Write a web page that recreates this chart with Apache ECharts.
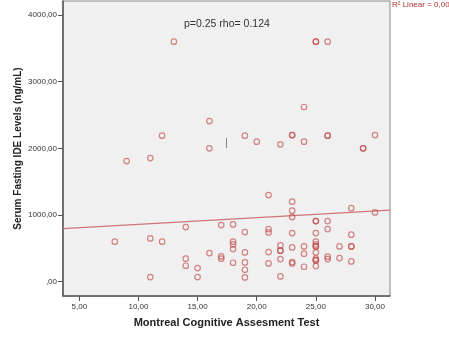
<!DOCTYPE html>
<html>
<head>
<meta charset="utf-8">
<script src="https://cdn.jsdelivr.net/npm/echarts@6/dist/echarts.min.js"></script>
<style>html,body{margin:0;padding:0;background:#fff}#c{width:449px;height:338px}</style>
</head>
<body>
<div id="c"></div>
<script>
// MoCA scores (x) and serum fasting IDE levels (y)
var mocaScores = [13,25,25,26,24,16,12,16,9,11,19,20,22,23,23,24,26,26,30,29,29,21,
  23,23,23,28,30,25,25,26,26,14,17,18,19,21,21,23,25,28,
  8,11,12,18,18,18,19,22,22,22,23,24,25,25,25,25,25,27,28,28,
  16,21,24,14,17,17,22,25,25,25,26,26,27,28,19,18,21,23,23,
  14,15,24,25,19,11,15,19,22];
var ideLevels = [3600,3600,3600,3600,2620,2410,2190,2000,1810,1855,2190,2100,2060,2200,2200,2100,2190,2190,2200,2000,2000,1300,
  1200,1065,970,1105,1040,910,910,910,790,820,850,860,745,790,740,730,730,705,
  600,650,600,600,560,490,440,545,465,465,515,530,600,560,530,530,440,530,530,530,
  430,445,420,345,380,345,340,345,320,320,375,340,355,305,290,285,275,295,275,
  240,205,225,235,180,70,70,65,80];
// Linear fit line as drawn (x at plot edges, y)
var fitX = [3.62, 31.27];
var fitY = [795, 1075];
var yTicks = [0, 1000, 2000, 3000, 4000];
var xTicks = [5, 10, 15, 20, 25, 30];
var xTitle = 'Montreal Cognitive Assesment Test';
var yTitle = 'Serum Fasting IDE Levels (ng/mL)';
var annotation = 'p=0.25 rho= 0.124';
var fitLabel = 'R\u00b2 Linear = 0,00';

function fmt(v){ var s = Number(v).toFixed(2).replace('.', ','); return s.indexOf('0,') === 0 ? s.slice(1) : s; }

var pts = mocaScores.map(function(x, i){ return [x, ideLevels[i]]; });
var fitPts = fitX.map(function(x, i){ return [x, fitY[i]]; });

var chart = echarts.init(document.getElementById('c'), null, {renderer: 'canvas'});
var font = 'Liberation Sans, Arial, sans-serif';
chart.setOption({
  animation: false,
  backgroundColor: '#ffffff',
  grid: {left: 63, top: 1, right: 59, bottom: 42, show: true, backgroundColor: '#f0f0f0', borderColor: '#888', borderWidth: 1},
  xAxis: {
    type: 'value', min: 3.62, max: 31.27,
    axisLine: {show: true, onZero: false, lineStyle: {color: '#555', width: 1.5}},
    axisTick: {show: true, length: 5, customValues: xTicks, lineStyle: {color: '#555'}},
    axisLabel: {customValues: xTicks, formatter: fmt, fontSize: 8, color: '#333', fontFamily: font, margin: 7},
    splitLine: {show: false},
    name: xTitle, nameLocation: 'middle', nameGap: 21, nameMoveOverlap: false,
    nameTextStyle: {fontSize: 11, fontWeight: 'bold', color: '#222', fontFamily: font}
  },
  yAxis: {
    type: 'value', min: -214, max: 4210,
    axisLine: {show: true, onZero: false, lineStyle: {color: '#555', width: 1.5}},
    axisTick: {show: true, length: 5, customValues: yTicks, lineStyle: {color: '#555'}},
    axisLabel: {customValues: yTicks, formatter: fmt, fontSize: 8, color: '#333', fontFamily: font, margin: 6},
    splitLine: {show: false},
    name: yTitle, nameLocation: 'middle', nameGap: 40, nameMoveOverlap: false,
    nameTextStyle: {fontSize: 10, fontWeight: 'bold', color: '#222', fontFamily: font}
  },
  series: [
    {type: 'line', data: fitPts, clip: false, symbol: 'none', lineStyle: {color: '#cf7575', width: 1.2}, z: 2},
    {type: 'scatter', data: pts, symbol: 'circle', symbolSize: 5.5,
     itemStyle: {color: 'rgba(0,0,0,0)', borderColor: 'rgba(192,70,70,0.8)', borderWidth: 1.2}, z: 3}
  ],
  graphic: [
    {type: 'text', left: 184, top: 19, style: {text: annotation, font: '10.5px ' + font, fill: '#333'}},
    {type: 'text', left: 392, top: 1, style: {text: fitLabel, font: '8px ' + font, fill: '#b03030'}},
    {type: 'text', left: 225, top: 137, style: {text: '|', font: '11px ' + font, fill: '#777'}}
  ]
});
</script>
</body>
</html>
